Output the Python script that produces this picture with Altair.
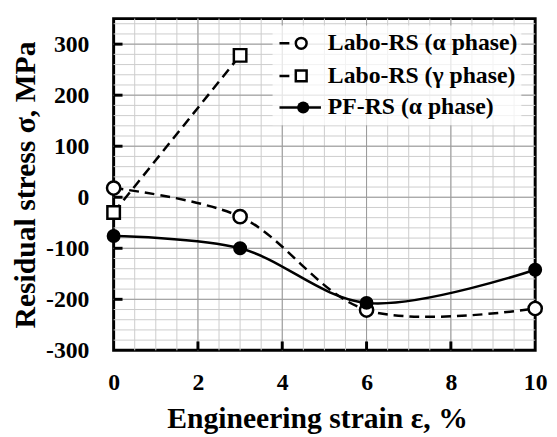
import altair as alt
import pandas as pd

# ---- data ----
strain_alpha = [0, 3, 6, 10]
labo_alpha = [18, -38, -221, -218]
strain_gamma = [0, 3]
labo_gamma = [-30, 278]
strain_pf = [0, 3, 6, 10]
pf_alpha = [-76, -100, -207, -142]

series_names = ["Labo-RS (α phase)", "Labo-RS (γ phase)", "PF-RS (α phase)"]
x_ticks = [0, 2, 4, 6, 8, 10]
y_ticks = [-300, -200, -100, 0, 100, 200, 300]
x_minor = [i * 0.5 for i in range(1, 20)]
y_minor = [v for v in range(-280, 350, 20)]
x_major = [2, 4, 6, 8]
y_major = [-200, -100, 0, 100, 200, 300]

FONT = "Liberation Serif"
W, H = 427, 336

df_a = pd.DataFrame({"strain": strain_alpha, "stress": labo_alpha})
df_g = pd.DataFrame({"strain": strain_gamma, "stress": labo_gamma})
df_p = pd.DataFrame({"strain": strain_pf, "stress": pf_alpha})

xs = alt.Scale(domain=[0, 10], nice=False, zero=False)
ys = alt.Scale(domain=[-300, 350], nice=False, zero=False)

x_enc = alt.X(
    "strain:Q", scale=xs,
    axis=alt.Axis(values=x_ticks, labelExpr="'' + datum.value", grid=False, domain=False, ticks=False,
                  labelFont=FONT, labelFontWeight="bold", labelFontSize=24, labelColor="black",
                  labelPadding=21, labelFlush=False,
                  title="Engineering strain ε, %", titleFont=FONT, titleFontWeight="bold",
                  titleFontSize=30, titleColor="black", titleX=206, titleY=78,
                  titleBaseline="alphabetic", titleAlign="center", titleAnchor="middle"),
)
y_enc = alt.Y(
    "stress:Q", scale=ys,
    axis=alt.Axis(values=y_ticks, labelExpr="'' + datum.value", grid=False, domain=False, ticks=False,
                  labelFont=FONT, labelFontWeight="bold", labelFontSize=24, labelColor="black",
                  labelPadding=25, labelFlush=False,
                  title="Residual stress σ, MPa", titleFont=FONT, titleFontWeight="bold",
                  titleFontSize=30, titleColor="black", titleX=-80, titleY=H / 2,
                  titleAngle=270, titleBaseline="alphabetic", titleAlign="center",
                  titleAnchor="middle"),
)

# grid
gx_minor = alt.Chart(pd.DataFrame({"g": x_minor})).mark_rule(color="#cccccc", strokeWidth=1).encode(
    x=alt.X("g:Q", scale=xs))
gy_minor = alt.Chart(pd.DataFrame({"g": y_minor})).mark_rule(color="#cccccc", strokeWidth=1).encode(
    y=alt.Y("g:Q", scale=ys))
gx_major = alt.Chart(pd.DataFrame({"g": x_major})).mark_rule(color="#999999", strokeWidth=1).encode(
    x=alt.X("g:Q", scale=xs))
gy_major = alt.Chart(pd.DataFrame({"g": y_major})).mark_rule(color="#999999", strokeWidth=1).encode(
    y=alt.Y("g:Q", scale=ys))

# inward ticks
tx = alt.Chart(pd.DataFrame({"g": x_major})).mark_rule(color="black", strokeWidth=3).encode(
    x=alt.X("g:Q", scale=xs), y=alt.value(H), y2=alt.value(H - 9))
ty = alt.Chart(pd.DataFrame({"g": y_major})).mark_rule(color="black", strokeWidth=3).encode(
    y=alt.Y("g:Q", scale=ys), x=alt.value(0), x2=alt.value(9))

LW = 2.5
DASH = [10, 6]

line_a = alt.Chart(df_a).mark_line(interpolate="catmull-rom", color="black", strokeWidth=LW,
                                   strokeDash=DASH).encode(x=x_enc, y=y_enc)
line_g = alt.Chart(df_g).mark_line(color="black", strokeWidth=LW, strokeDash=DASH).encode(
    x=alt.X("strain:Q", scale=xs), y=alt.Y("stress:Q", scale=ys))
line_p = alt.Chart(df_p).mark_line(interpolate="catmull-rom", color="black", strokeWidth=LW).encode(
    x=alt.X("strain:Q", scale=xs), y=alt.Y("stress:Q", scale=ys))

pt_a = alt.Chart(df_a).mark_point(shape="circle", size=180, filled=True, fill="white",
                                  stroke="black", strokeWidth=LW, opacity=1).encode(
    x=alt.X("strain:Q", scale=xs), y=alt.Y("stress:Q", scale=ys))
pt_g = alt.Chart(df_g).mark_point(shape="square", size=160, filled=True, fill="white",
                                  stroke="black", strokeWidth=LW, opacity=1).encode(
    x=alt.X("strain:Q", scale=xs), y=alt.Y("stress:Q", scale=ys))
pt_p = alt.Chart(df_p).mark_point(shape="circle", size=200, filled=True, color="black",
                                  opacity=1).encode(
    x=alt.X("strain:Q", scale=xs), y=alt.Y("stress:Q", scale=ys))

# legend (drawn inside the plot, top right)
one = pd.DataFrame({"k": [0]})
leg_bg = alt.Chart(one).mark_rect(color="white", opacity=0.75).encode(
    x=alt.value(161), x2=alt.value(413), y=alt.value(7), y2=alt.value(108))
leg_layers = [leg_bg]
rows = [25, 58, 90]
for i, name in enumerate(series_names):
    yy = rows[i]
    if i < 2:
        seg = alt.Chart(one).mark_rule(color="black", strokeWidth=LW, strokeDash=DASH).encode(
            x=alt.value(168), x2=alt.value(200), y=alt.value(yy))
        shp = "circle" if i == 0 else "square"
        mk = alt.Chart(one).mark_point(shape=shp, size=120, filled=True, fill="white",
                                       stroke="black", strokeWidth=LW, opacity=1).encode(
            x=alt.value(190), y=alt.value(yy))
    else:
        seg = alt.Chart(one).mark_rule(color="black", strokeWidth=LW).encode(
            x=alt.value(168), x2=alt.value(210), y=alt.value(yy))
        mk = alt.Chart(one).mark_point(shape="circle", size=150, filled=True, color="black",
                                       opacity=1).encode(x=alt.value(192), y=alt.value(yy))
    txt = alt.Chart(one).mark_text(text=name, font=FONT, fontWeight="bold", fontSize=24,
                                   align="left", baseline="middle", color="black").encode(
        x=alt.value(217), y=alt.value(yy))
    leg_layers += [seg, mk, txt]

chart = alt.layer(
    gx_minor, gy_minor, gx_major, gy_major, tx, ty,
    line_a, line_g, line_p, pt_a, pt_g, pt_p, *leg_layers
).properties(
    width=W, height=H,
    autosize=alt.AutoSizeParams(type="none"),
    padding={"left": 107, "top": 8, "right": 14, "bottom": 85},
    background="white",
).configure_view(stroke="black", strokeWidth=3)

chart.save("out.html", embed_options={"renderer": "svg", "actions": False})
